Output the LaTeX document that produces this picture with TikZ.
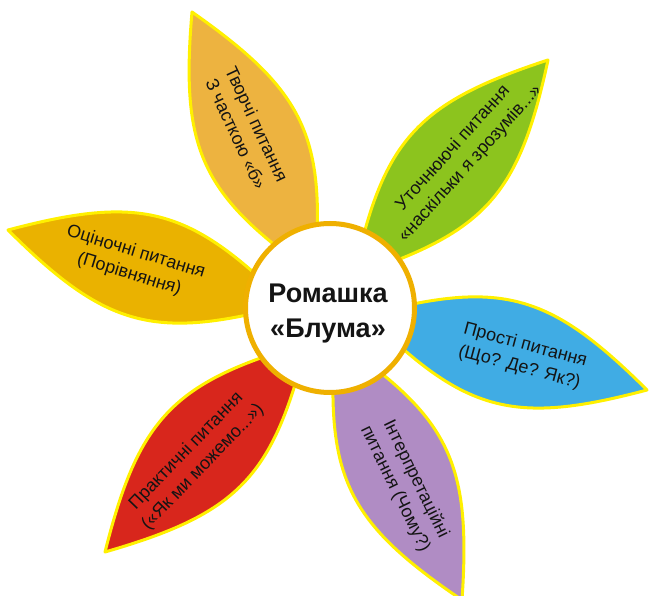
\documentclass[tikz,border=0pt]{standalone}
\usepackage{fontspec}
\newfontfamily\arialf{Liberation Sans}
\definecolor{cTop}{RGB}{237,179,64}
\definecolor{cGreen}{RGB}{140,196,30}
\definecolor{cLeft}{RGB}{234,178,0}
\definecolor{cBlue}{RGB}{64,172,228}
\definecolor{cPurple}{RGB}{176,140,196}
\definecolor{cRed}{RGB}{216,38,28}
\definecolor{cRing}{RGB}{239,176,0}
\definecolor{cEdge}{RGB}{255,240,0}
\definecolor{cText}{RGB}{20,20,20}
\begin{document}
\begin{tikzpicture}[x=1pt,y=1pt,
  petal/.style={draw=cEdge, line width=3pt, line join=round},
  ptext/.style={font=\arialf\fontsize{18}{23}\selectfont, align=center, text=cText, inner sep=0pt},
  ctext/.style={font=\arialf\bfseries\fontsize{27}{35}\selectfont, align=center, text=cText}]
\useasboundingbox (0,0) rectangle (650,595);
\fill[white] (0,0) rectangle (650,595);
% top petal
\begin{scope}[shift={(192,583)}, rotate=115]
  \path[petal, fill=cTop] (-290,0) .. controls (-170,69) and (-120,69) .. (0,0) .. controls (-120,-69) and (-170,-69) .. cycle;
  \node[ptext, rotate=-65] (t1) at (-129,0) {Творчі питання\\З часткою «б»};
\end{scope}
% green petal
\begin{scope}[shift={(548,535)}, rotate=48]
  \path[petal, fill=cGreen] (-290,0) .. controls (-170,69) and (-120,69) .. (0,0) .. controls (-120,-69) and (-170,-69) .. cycle;
  \node[ptext, rotate=48] (t2) at (-129,0) {Уточнюючі питання\\«наскільки я зрозумів...»};
\end{scope}
% left petal
\begin{scope}[shift={(8,365)}, rotate=165]
  \path[petal, fill=cLeft] (-290,0) .. controls (-170,69) and (-120,69) .. (0,0) .. controls (-120,-69) and (-170,-69) .. cycle;
  \node[ptext, rotate=-17] (t3) at (-129,0) {Оціночні питання\\(Порівняння)};
\end{scope}
% blue petal
\begin{scope}[shift={(647,205)}, rotate=-15]
  \path[petal, fill=cBlue] (-290,0) .. controls (-170,69) and (-120,69) .. (0,0) .. controls (-120,-69) and (-170,-69) .. cycle;
  \node[ptext, rotate=-15] (t4) at (-129,0) {Прості питання\\(Що? Де? Як?)};
\end{scope}
% purple petal
\begin{scope}[shift={(462,-5)}, rotate=-64]
  \path[petal, fill=cPurple] (-290,0) .. controls (-170,69) and (-120,69) .. (0,0) .. controls (-120,-69) and (-170,-69) .. cycle;
  \node[ptext, rotate=-64] (t5) at (-129,0) {Інтерпретаційні\\питання (Чому?)};
\end{scope}
% red petal
\begin{scope}[shift={(105,43)}, rotate=226]
  \path[petal, fill=cRed] (-290,0) .. controls (-170,69) and (-120,69) .. (0,0) .. controls (-120,-69) and (-170,-69) .. cycle;
  \node[ptext, rotate=46] (t6) at (-129,0) {Практичні питання\\(«Як ми можемо...»)};
\end{scope}
% centre
\node[circle, draw=cRing, line width=5pt, fill=white, minimum size=169pt, inner sep=0pt] (c) at (330,287) {};
\node[ctext] (ct) at (328,281) {Ромашка\\«Блума»};
\end{tikzpicture}
\end{document}
